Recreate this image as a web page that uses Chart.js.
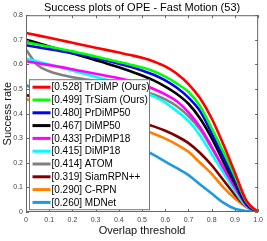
<!DOCTYPE html>
<html>
<head>
<meta charset="utf-8">
<script src="https://cdn.jsdelivr.net/npm/chart.js@4/dist/chart.umd.min.js"></script>
<style>
  html, body { margin: 0; padding: 0; background: #fff; }
  canvas { display: block; }
</style>
</head>
<body>
<canvas id="grafico" width="267" height="241"></canvas>
<script>
// Limiares de sobreposição (eixo x)
const limiares = [0, 0.05, 0.1, 0.15, 0.2, 0.25, 0.3, 0.35, 0.4, 0.45, 0.5,
                  0.55, 0.6, 0.65, 0.7, 0.75, 0.8, 0.85, 0.9, 0.95, 1];

// Rótulos da legenda
const rotulos = ['[0.528] TrDiMP (Ours)', '[0.499] TrSiam (Ours)', '[0.480] PrDiMP50',
                 '[0.467] DiMP50', '[0.433] PrDiMP18', '[0.415] DiMP18', '[0.414] ATOM',
                 '[0.319] SiamRPN++', '[0.290] C-RPN', '[0.260] MDNet'];

// Taxa de sucesso de cada rastreador
const trDiMP    = [0.728, 0.718, 0.708, 0.698, 0.688, 0.678, 0.668, 0.658, 0.648, 0.638, 0.627,
                   0.612, 0.592, 0.562, 0.520, 0.462, 0.380, 0.275, 0.160, 0.045, 0];
const trSiam    = [0.690, 0.681, 0.672, 0.663, 0.653, 0.643, 0.632, 0.621, 0.610, 0.599, 0.587,
                   0.572, 0.550, 0.522, 0.488, 0.430, 0.340, 0.245, 0.145, 0.040, 0];
const prDiMP50  = [0.678, 0.670, 0.662, 0.654, 0.645, 0.636, 0.626, 0.615, 0.603, 0.590, 0.575,
                   0.558, 0.535, 0.505, 0.465, 0.410, 0.320, 0.225, 0.130, 0.035, 0];
const diMP50    = [0.700, 0.687, 0.673, 0.659, 0.645, 0.631, 0.617, 0.603, 0.588, 0.572, 0.555,
                   0.535, 0.510, 0.480, 0.440, 0.380, 0.300, 0.205, 0.115, 0.030, 0];
const prDiMP18  = [0.613, 0.605, 0.597, 0.589, 0.580, 0.571, 0.562, 0.553, 0.544, 0.533, 0.518,
                   0.500, 0.478, 0.450, 0.405, 0.345, 0.265, 0.180, 0.100, 0.028, 0];
const diMP18    = [0.624, 0.612, 0.600, 0.588, 0.575, 0.562, 0.549, 0.537, 0.523, 0.508, 0.490,
                   0.470, 0.445, 0.410, 0.370, 0.310, 0.235, 0.160, 0.085, 0.022, 0];
const atom      = [0.660, 0.597, 0.572, 0.558, 0.548, 0.540, 0.532, 0.524, 0.515, 0.505, 0.493,
                   0.478, 0.458, 0.430, 0.390, 0.335, 0.260, 0.180, 0.100, 0.030, 0];
const siamRPNpp = [0.475, 0.466, 0.457, 0.447, 0.437, 0.426, 0.414, 0.402, 0.389, 0.376, 0.363,
                   0.348, 0.330, 0.308, 0.280, 0.240, 0.190, 0.130, 0.070, 0.022, 0];
const cRPN      = [0.458, 0.448, 0.437, 0.426, 0.414, 0.402, 0.390, 0.377, 0.364, 0.350, 0.335,
                   0.318, 0.298, 0.274, 0.245, 0.200, 0.155, 0.100, 0.055, 0.020, 0];
const mdNet     = [0.517, 0.490, 0.464, 0.438, 0.412, 0.386, 0.360, 0.334, 0.308, 0.282, 0.256,
                   0.232, 0.205, 0.178, 0.150, 0.112, 0.075, 0.038, 0.013, 0.004, 0];

const series = [trDiMP, trSiam, prDiMP50, diMP50, prDiMP18, diMP18, atom, siamRPNpp, cRPN, mdNet];
const cores = ['#ff0000', '#00ff00', '#0000ff', '#000000', '#ff00ff',
               '#00ffff', '#808080', '#800000', '#ff8000', '#1e9be0'];

const fonte = 'Liberation Sans, Arial, Helvetica, sans-serif';

// Moldura, marcas internas e legenda no estilo MATLAB
const moldura = {
    id: 'moldura',
    afterDatasetsDraw(chart) {
        const { ctx, chartArea: a, scales: { x, y } } = chart;
        ctx.save();
        ctx.strokeStyle = '#666';
        ctx.lineWidth = 1;
        ctx.strokeRect(a.left + 0.5, a.top + 0.5, a.right - a.left - 1, a.bottom - a.top - 1);

        const tam = 3;
        ctx.beginPath();
        x.ticks.forEach(t => {
            const px = Math.round(x.getPixelForValue(t.value)) + 0.5;
            ctx.moveTo(px, a.bottom); ctx.lineTo(px, a.bottom - tam);
            ctx.moveTo(px, a.top); ctx.lineTo(px, a.top + tam);
        });
        y.ticks.forEach(t => {
            const py = Math.round(y.getPixelForValue(t.value)) + 0.5;
            ctx.moveTo(a.left, py); ctx.lineTo(a.left + tam, py);
            ctx.moveTo(a.right, py); ctx.lineTo(a.right - tam, py);
        });
        ctx.stroke();

        // Legenda
        const lx = a.left + 3.5, ly = a.top + 64.5, lw = 120, lh = 130;
        ctx.fillStyle = '#fff';
        ctx.fillRect(lx, ly, lw, lh);
        ctx.strokeStyle = '#777';
        ctx.strokeRect(lx, ly, lw, lh);

        ctx.font = '10px ' + fonte;
        ctx.textBaseline = 'middle';
        ctx.textAlign = 'left';
        chart.data.datasets.forEach((ds, i) => {
            const cy = ly + 7.5 + i * 12.8;
            ctx.strokeStyle = ds.borderColor;
            ctx.lineWidth = 3;
            ctx.beginPath();
            ctx.moveTo(lx + 3, cy);
            ctx.lineTo(lx + 21, cy);
            ctx.stroke();
            ctx.fillStyle = '#000';
            ctx.fillText(ds.label, lx + 22, cy + 0.5);
        });
        ctx.restore();
    }
};

const ctx = document.getElementById('grafico').getContext('2d');
new Chart(ctx, {
    type: 'line',
    data: {
        datasets: series.map((valores, i) => ({
            label: rotulos[i],
            data: limiares.map((t, k) => ({ x: t, y: valores[k] })),
            borderColor: cores[i],
            borderWidth: 2.6,
            pointRadius: 0,
            fill: false,
            cubicInterpolationMode: 'monotone'
        }))
    },
    options: {
        responsive: false,
        animation: false,
        layout: { padding: { left: 0, right: 7, top: 0, bottom: 0 } },
        plugins: {
            legend: { display: false },
            tooltip: { enabled: false },
            title: {
                display: true,
                fullSize: false,
                text: 'Success plots of OPE - Fast Motion (53)',
                color: '#000',
                font: { family: fonte, size: 11, weight: 'normal' },
                padding: { top: 1, bottom: 1 }
            }
        },
        scales: {
            x: {
                type: 'linear',
                min: 0,
                max: 1,
                grid: { display: false, drawTicks: false },
                border: { display: false },
                ticks: {
                    stepSize: 0.1,
                    padding: 4,
                    maxRotation: 0,
                    color: '#444',
                    font: { family: fonte, size: 7 }
                },
                title: {
                    display: true,
                    text: 'Overlap threshold',
                    color: '#111',
                    font: { family: fonte, size: 11 },
                    padding: { top: 0, bottom: 3.5 }
                },
                afterFit(scale) { scale.height = 29; }
            },
            y: {
                min: 0,
                max: 0.8,
                grid: { display: false, drawTicks: false },
                border: { display: false },
                ticks: {
                    stepSize: 0.1,
                    padding: 3,
                    color: '#444',
                    font: { family: fonte, size: 7 }
                },
                title: {
                    display: true,
                    text: 'Success rate',
                    color: '#111',
                    font: { family: fonte, size: 11 },
                    padding: { top: 1, bottom: 0 }
                },
                afterFit(scale) { scale.width = 26; }
            }
        }
    },
    plugins: [moldura]
});
</script>
</body>
</html>
